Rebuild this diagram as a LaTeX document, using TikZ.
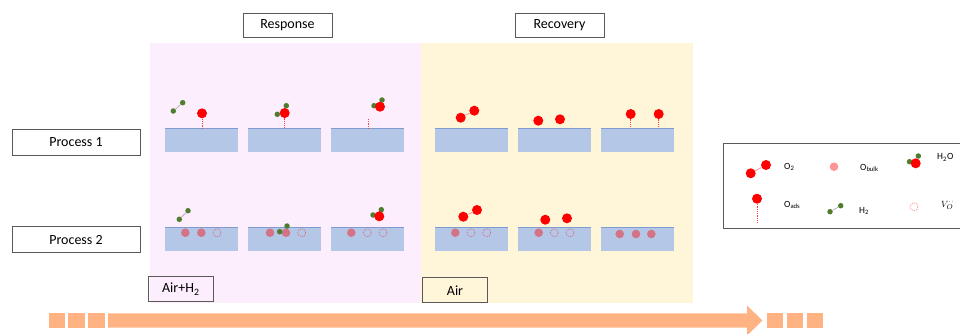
\documentclass[tikz,border=0pt]{standalone}
\usepackage{fontspec}
\setmainfont{Carlito}
\definecolor{pinkbg}{HTML}{FCEEFC}
\definecolor{yellowbg}{HTML}{FFF6D9}
\definecolor{subblue}{HTML}{B4C7E7}
\definecolor{subedge}{HTML}{7F9BD0}
\definecolor{hgreen}{HTML}{4F7D2E}
\definecolor{oxred}{HTML}{FF0000}
\definecolor{arroworange}{HTML}{FFB382}
\definecolor{boxline}{HTML}{595959}
\begin{document}
\begin{tikzpicture}[x=1pt,y=-1pt,
  labelbox/.style={draw=boxline,line width=0.8pt,inner sep=0pt,font=\fontsize{14}{16}\selectfont},
  subst/.style={fill=subblue,draw=none,inner sep=0pt,minimum width=73pt,minimum height=24pt,anchor=north west},
  ox/.style={circle,fill=oxred,inner sep=0pt,minimum size=10pt},
  hy/.style={circle,fill=hgreen,inner sep=0pt,minimum size=5.5pt},
  obulk/.style={circle,fill=oxred,fill opacity=0.42,inner sep=0pt,minimum size=8.6pt},
  vac/.style={circle,draw=oxred,draw opacity=0.42,dash pattern=on 1.3pt off 1pt,line width=0.7pt,inner sep=0pt,minimum size=8pt},
  hbond/.style={draw=black!35,line width=0.6pt},
  obond/.style={draw=oxred!45,line width=0.7pt},
  ads/.style={draw=oxred!75,dash pattern=on 1.3pt off 1pt,line width=0.8pt},
  legtext/.style={anchor=west,inner sep=0pt,font=\fontsize{9.5}{11}\selectfont},
  arr/.style={fill=arroworange,draw=none}]
\useasboundingbox (0,0) rectangle (960,333);

% gas atmosphere backgrounds
\fill[pinkbg] (150,42.7) rectangle (421,302.7);
\fill[yellowbg] (421,42.7) rectangle (693,302.7);

% stage headings
\node[labelbox,fill=white,minimum width=89pt,minimum height=24pt] (resp) at (287.5,25.3) {Response};
\node[labelbox,fill=white,minimum width=89pt,minimum height=24pt] (reco) at (559.5,25.3) {Recovery};

% process labels
\node[labelbox,fill=white,minimum width=128pt,minimum height=25.7pt] (p1) at (76,142.2) {Process 1};
\node[labelbox,fill=white,minimum width=128pt,minimum height=25.7pt] (p2) at (76,239.7) {Process 2};

% atmosphere labels
\node[labelbox,minimum width=65pt,minimum height=25pt] (airh) at (180.8,289.2) {Air+H\textsubscript{2}};
\node[labelbox,fill=yellowbg,minimum width=64.6pt,minimum height=25pt] (air) at (455,290.2) {Air};

% substrates
\foreach \n/\x in {a/165,b/248,c/331,d/435,e/518,f/601}{
  \node[subst] (s1\n) at (\x,128) {};
  \draw[subedge,line width=0.9pt] (s1\n.north west) -- (s1\n.north east);
  \node[subst] (s2\n) at (\x,227) {};
  \draw[subedge,line width=0.9pt] (s2\n.north west) -- (s2\n.north east);
}

% ---- Process 1, response ----
\node[hy] (h1a) at (173.3,111) {};
\node[hy] (h1b) at (182.7,102.7) {};
\draw[hbond] (h1a) -- (h1b);
\node[ox] (o1a) at (202,113.3) {};
\draw[ads] (o1a.south) -- (o1a.south |- s1a.north);

\node[hy] (h2a) at (277.3,114.3) {};
\node[hy] (h2b) at (286.3,105.7) {};
\node[ox] (o2a) at (284.7,113) {};
\draw[ads] (o2a.south) -- (o2a.south |- s1b.north);

\node[hy] (h3a) at (374,105.7) {};
\node[hy] (h3b) at (382,100) {};
\node[ox] (o3a) at (380,106.7) {};
\coordinate (v3) at (368.3,118.7);
\draw[ads] (v3) -- (v3 |- s1c.north);

% ---- Process 1, recovery ----
\node[ox] (o4a) at (460.7,117.7) {};
\node[ox] (o4b) at (474.3,110.7) {};
\draw[obond] (o4a) -- (o4b);

\node[ox] (o5a) at (538.3,120.7) {};
\node[ox] (o5b) at (560,119.3) {};

\node[ox] (o6a) at (630.7,114) {};
\node[ox] (o6b) at (658.7,114) {};
\draw[ads] (o6a.south) -- (o6a.south |- s1f.north);
\draw[ads] (o6b.south) -- (o6b.south |- s1f.north);

% ---- Process 2, response ----
\node[obulk] (b1a) at (185.3,232.7) {};
\node[obulk] (b1b) at (201.3,232.7) {};
\node[vac] (v1a) at (217,232.7) {};
\node[hy] (h7a) at (179.3,219.3) {};
\node[hy] (h7b) at (188,210.7) {};
\draw[hbond] (h7a) -- (h7b);

\node[obulk] (b2a) at (270,232.7) {};
\node[obulk] (b2b) at (286,232.7) {};
\node[vac] (v2a) at (301.7,232.7) {};
\node[hy] (h8a) at (279.7,231.7) {};
\node[hy] (h8b) at (287,226) {};

\node[obulk] (b3a) at (351.3,232.7) {};
\node[vac] (v3a) at (367.3,232.7) {};
\node[vac] (v3b) at (383,232.7) {};
\node[hy] (h9a) at (373,215) {};
\node[hy] (h9b) at (381.3,209.7) {};
\node[ox] (o9a) at (379.3,216.3) {};

% ---- Process 2, recovery ----
\node[obulk] (b4a) at (455.3,232.7) {};
\node[vac] (v4a) at (471,232.7) {};
\node[vac] (v4b) at (486.7,232.7) {};
\node[ox] (o10a) at (463.3,216.7) {};
\node[ox] (o10b) at (477,210) {};
\draw[obond] (o10a) -- (o10b);

\node[obulk] (b5a) at (538.7,232.7) {};
\node[vac] (v5a) at (554.3,232.7) {};
\node[vac] (v5b) at (570,232.7) {};
\node[ox] (o11a) at (545.3,219.7) {};
\node[ox] (o11b) at (567,218.3) {};

\node[obulk] (b6a) at (619.7,234) {};
\node[obulk] (b6b) at (636,234) {};
\node[obulk] (b6c) at (651.3,234) {};

% ---- legend ----
\begin{scope}
\clip (0,0) rectangle (960,333);
\node[draw=boxline,line width=0.8pt,inner sep=0pt,minimum width=245pt,minimum height=85pt,anchor=north west] (leg) at (722.7,143) {};
\end{scope}
\node[ox] (lo1) at (750.7,173.3) {};
\node[ox] (lo2) at (766,165) {};
\draw[obond] (lo1) -- (lo2);
\node[legtext] (t1) at (784,167) {O\textsubscript{2}};
\node[obulk] (lb) at (834,166.7) {};
\node[legtext] (t2) at (860,168) {O\textsubscript{bulk}};
\node[hy] (lw1) at (918.3,156) {};
\node[hy] (lw2) at (909.5,161.7) {};
\node[ox] (lw3) at (915.7,163.3) {};
\node[legtext] (t3) at (937,157.5) {H\textsubscript{2}O};
\node[ox] (la) at (757,198.7) {};
\coordinate (lae) at (757,223.3);
\draw[ads] (la.south) -- (lae);
\node[legtext] (t4) at (784,205) {O\textsubscript{ads}};
\node[hy] (lh1) at (830,211.7) {};
\node[hy] (lh2) at (840.7,205.7) {};
\draw[hbond] (lh1) -- (lh2);
\node[legtext] (t5) at (859,211) {H\textsubscript{2}};
\node[vac] (lv) at (914,206.7) {};
\node[legtext] (t6) at (941,205) {$V_O^{\cdot\cdot}$};

% ---- time arrow ----
\fill[arr] (48.5,313.3) rectangle (65,327.7);
\fill[arr] (68,313.3) rectangle (84.5,327.7);
\fill[arr] (88,313.3) rectangle (104.5,327.7);
\fill[arr] (108,313.3) -- (747,313.3) -- (747,305.5) -- (762.5,320.5) -- (747,335.5) -- (747,327.7) -- (108,327.7) -- cycle;
\fill[arr] (767,313.3) rectangle (783,327.7);
\fill[arr] (787,313.3) rectangle (803,327.7);
\fill[arr] (807,313.3) rectangle (823,327.7);
\end{tikzpicture}
\end{document}
